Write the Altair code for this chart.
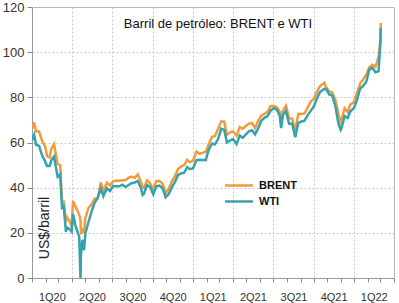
import altair as alt
import pandas as pd

# ---------------- data ----------------
dates = [
    "2020-01-02", "2020-01-06", "2020-01-10", "2020-01-17", "2020-01-24", "2020-01-31",
    "2020-02-04", "2020-02-10", "2020-02-14", "2020-02-20", "2020-02-28", "2020-03-05",
    "2020-03-09", "2020-03-13", "2020-03-18", "2020-03-20", "2020-03-27", "2020-03-31",
    "2020-04-03", "2020-04-09", "2020-04-17", "2020-04-20", "2020-04-21", "2020-04-24",
    "2020-04-28", "2020-05-01", "2020-05-08", "2020-05-15", "2020-05-22", "2020-05-29",
    "2020-06-05", "2020-06-11", "2020-06-19", "2020-06-26", "2020-07-03", "2020-07-10",
    "2020-07-17", "2020-07-24", "2020-07-31", "2020-08-07", "2020-08-14", "2020-08-21",
    "2020-08-28", "2020-09-04", "2020-09-08", "2020-09-11", "2020-09-18", "2020-09-25",
    "2020-10-02", "2020-10-09", "2020-10-16", "2020-10-23", "2020-10-30", "2020-11-06",
    "2020-11-13", "2020-11-20", "2020-11-27", "2020-12-04", "2020-12-11", "2020-12-18",
    "2020-12-24", "2020-12-31", "2021-01-08", "2021-01-15", "2021-01-22", "2021-01-29",
    "2021-02-05", "2021-02-12", "2021-02-19", "2021-02-26", "2021-03-05", "2021-03-12",
    "2021-03-18", "2021-03-26", "2021-04-01", "2021-04-09", "2021-04-16", "2021-04-23",
    "2021-04-30", "2021-05-07", "2021-05-14", "2021-05-21", "2021-05-28", "2021-06-04",
    "2021-06-11", "2021-06-18", "2021-06-25", "2021-07-02", "2021-07-09", "2021-07-16",
    "2021-07-19", "2021-07-23", "2021-07-30", "2021-08-06", "2021-08-13", "2021-08-20",
    "2021-08-27", "2021-09-03", "2021-09-10", "2021-09-17", "2021-09-24", "2021-10-01",
    "2021-10-08", "2021-10-15", "2021-10-25", "2021-10-29", "2021-11-05", "2021-11-12",
    "2021-11-19", "2021-11-26", "2021-12-01", "2021-12-03", "2021-12-10", "2021-12-17",
    "2021-12-23", "2021-12-31", "2022-01-07", "2022-01-14", "2022-01-21", "2022-01-28",
    "2022-02-04", "2022-02-11", "2022-02-18", "2022-02-25", "2022-03-01", "2022-03-02",
]
brent = [
    66.3, 68.9, 65.0, 64.9, 60.7, 58.2,
    54.0, 53.3, 57.3, 59.3, 50.5, 50.0,
    34.4, 33.9, 24.9, 27.0, 24.9, 22.7,
    34.1, 31.5, 28.1, 25.6, 19.3, 21.4,
    20.5, 26.4, 31.0, 32.5, 35.1, 35.3,
    42.3, 38.6, 42.2, 41.0, 42.8, 43.2,
    43.1, 43.3, 43.3, 44.4, 44.8, 44.4,
    45.8, 42.7, 39.8, 39.8, 43.2, 41.9,
    39.3, 42.9, 42.9, 41.8, 37.5, 39.5,
    42.8, 45.0, 48.2, 49.3, 50.0, 52.3,
    51.3, 51.8, 56.0, 55.1, 55.4, 55.9,
    59.3, 62.4, 62.9, 66.1, 69.4, 69.2,
    63.3, 64.6, 64.9, 63.0, 66.8, 66.1,
    67.3, 68.3, 68.7, 66.4, 69.6, 71.9,
    72.7, 73.5, 76.2, 76.2, 75.6, 73.6,
    68.6, 74.1, 76.3, 70.7, 70.6, 65.2,
    72.7, 72.6, 72.9, 75.3, 78.1, 79.3,
    82.4, 84.9, 86.4, 84.4, 82.7, 82.2,
    78.9, 72.7, 68.9, 69.9, 75.2, 73.5,
    76.9, 77.8, 81.8, 86.1, 87.9, 90.0,
    93.3, 94.4, 93.5, 97.9, 105.0, 112.9,
]
wti = [
    61.2, 63.3, 59.0, 58.5, 54.2, 51.6,
    49.6, 49.6, 52.1, 53.8, 44.8, 45.9,
    31.1, 31.7, 20.4, 22.4, 21.5, 20.5,
    28.3, 22.8, 18.3, 0.0, 10.0, 16.9,
    12.3, 19.8, 24.7, 29.4, 33.3, 35.5,
    39.6, 36.3, 39.8, 38.5, 40.7, 40.6,
    40.6, 41.3, 40.3, 41.2, 42.0, 42.3,
    43.0, 39.8, 36.8, 37.3, 41.1, 40.3,
    37.1, 40.6, 40.9, 39.9, 35.8, 37.1,
    40.1, 42.4, 45.5, 46.3, 46.6, 49.1,
    48.2, 48.5, 52.2, 52.4, 52.3, 52.2,
    56.9, 59.5, 59.2, 61.5, 66.1, 65.6,
    60.0, 61.0, 61.5, 59.3, 63.1, 62.1,
    63.6, 64.9, 65.4, 63.6, 66.3, 69.6,
    70.9, 71.6, 74.1, 75.2, 74.6, 71.8,
    66.4, 72.1, 74.0, 68.3, 68.4, 62.3,
    68.7, 69.3, 69.7, 72.0, 74.0, 75.9,
    79.4, 82.3, 83.8, 83.6, 81.3, 80.8,
    76.1, 68.2, 65.6, 66.3, 71.7, 70.9,
    73.8, 75.2, 78.9, 83.8, 85.1, 86.8,
    92.3, 93.1, 91.1, 91.6, 103.4, 110.6,
]
series_names = ["BRENT", "WTI"]
series_colors = ["#F29B3E", "#35A3AD"]
quarter_labels = ["1Q20", "2Q20", "3Q20", "4Q20", "1Q21", "2Q21", "3Q21", "4Q21", "1Q22"]
quarter_mids = [(2020, 2, 15), (2020, 5, 16), (2020, 8, 16), (2020, 11, 15),
                (2021, 2, 14), (2021, 5, 16), (2021, 8, 16), (2021, 11, 15),
                (2022, 2, 14)]
y_ticks = [0, 20, 40, 60, 80, 100, 120]
chart_title = "Barril de petróleo: BRENT e WTI"
y_title = "US$/barril"

# ---------------- layout ----------------
W, H = 362, 271
PAD = {"left": 32, "top": 7, "right": 5, "bottom": 25}
FONT = "Liberation Sans"

n = len(dates)
df = pd.DataFrame({
    "date": [d + "T00:00:00" for d in dates] * 2,
    "price": brent + wti,
    "series": ["BRENT"] * n + ["WTI"] * n,
})

month_starts = []
y, m = 2020, 1
while (y, m) <= (2022, 4):
    month_starts.append(alt.DateTime(year=y, month=m, date=1))
    m += 1
    if m > 12:
        m, y = 1, y + 1
mid_values = [alt.DateTime(year=a, month=b, date=c) for a, b, c in quarter_mids]

label_expr = "''"
for (a, b, c), lab in zip(reversed(quarter_mids), reversed(quarter_labels)):
    label_expr = (f"(year(datum.value)=={a} && month(datum.value)=={b-1} && "
                  f"date(datum.value)=={c}) ? '{lab}' : ({label_expr})")

x_axis = alt.Axis(
    values=month_starts + mid_values,
    title=None,
    labelExpr=label_expr,
    labelOverlap=False,
    labelFlush=False,
    labelFont=FONT, labelFontSize=11, labelColor="#333333",
    labelPadding=9,
    tickSize=4, tickColor="#888888",
    tickOpacity={"condition": {"test": "date(datum.value) != 1", "value": 0}, "value": 1},
    domainColor="#999999",
    grid=True,
    gridColor="#c8c8c8", gridDash=[2, 2], gridWidth=1,
    gridOpacity={"condition": {"test": "date(datum.value) == 1 && month(datum.value) % 3 == 0",
                               "value": 1}, "value": 0},
)
y_axis = alt.Axis(
    values=y_ticks, title=None,
    labelFont=FONT, labelFontSize=13, labelColor="#333333", labelPadding=3,
    tickSize=5, tickColor="#888888", domainColor="#999999",
    grid=True, gridColor="#c8c8c8", gridDash=[2, 2],
)

x_scale = alt.Scale(domain=[alt.DateTime(year=2020, month=1, date=1),
                            alt.DateTime(year=2022, month=4, date=1)])
y_scale = alt.Scale(domain=[0, 120], nice=False)

lines = alt.Chart(df).mark_line(strokeWidth=2.5, clip=True).encode(
    x=alt.X("date:T", scale=x_scale, axis=x_axis),
    y=alt.Y("price:Q", scale=y_scale, axis=y_axis),
    color=alt.Color("series:N", scale=alt.Scale(domain=series_names, range=series_colors),
                    legend=None),
)

title_txt = alt.Chart(pd.DataFrame({"t": [chart_title]})).mark_text(
    font=FONT, fontSize=13, color="#111111", align="center", baseline="alphabetic"
).encode(x=alt.value(186), y=alt.value(20.5), text="t:N")

ytitle_txt = alt.Chart(pd.DataFrame({"t": [y_title]})).mark_text(
    font=FONT, fontSize=14, color="#222222", align="center", baseline="middle", angle=270
).encode(x=alt.value(13), y=alt.value(221), text="t:N")

legend_layers = []
for i, (name, col) in enumerate(zip(series_names, series_colors)):
    yy = 178.5 + 16 * i
    legend_layers.append(
        alt.Chart(pd.DataFrame({"s": [name]})).mark_rule(color=col, strokeWidth=2.5).encode(
            x=alt.value(193), x2=alt.value(221), y=alt.value(yy))
    )
    legend_layers.append(
        alt.Chart(pd.DataFrame({"s": [name]})).mark_text(
            font=FONT, fontSize=11, fontWeight="bold", color="#111111",
            align="left", baseline="middle"
        ).encode(x=alt.value(227), y=alt.value(yy + 0.5), text="s:N")
    )

chart = alt.layer(lines, title_txt, ytitle_txt, *legend_layers).properties(
    width=W, height=H, padding=PAD, autosize=alt.AutoSizeParams(type="none"),
    background="white",
).configure_view(stroke="#aaaaaa", strokeWidth=1)

chart.save("out.html", embed_options={"renderer": "svg", "actions": False})
